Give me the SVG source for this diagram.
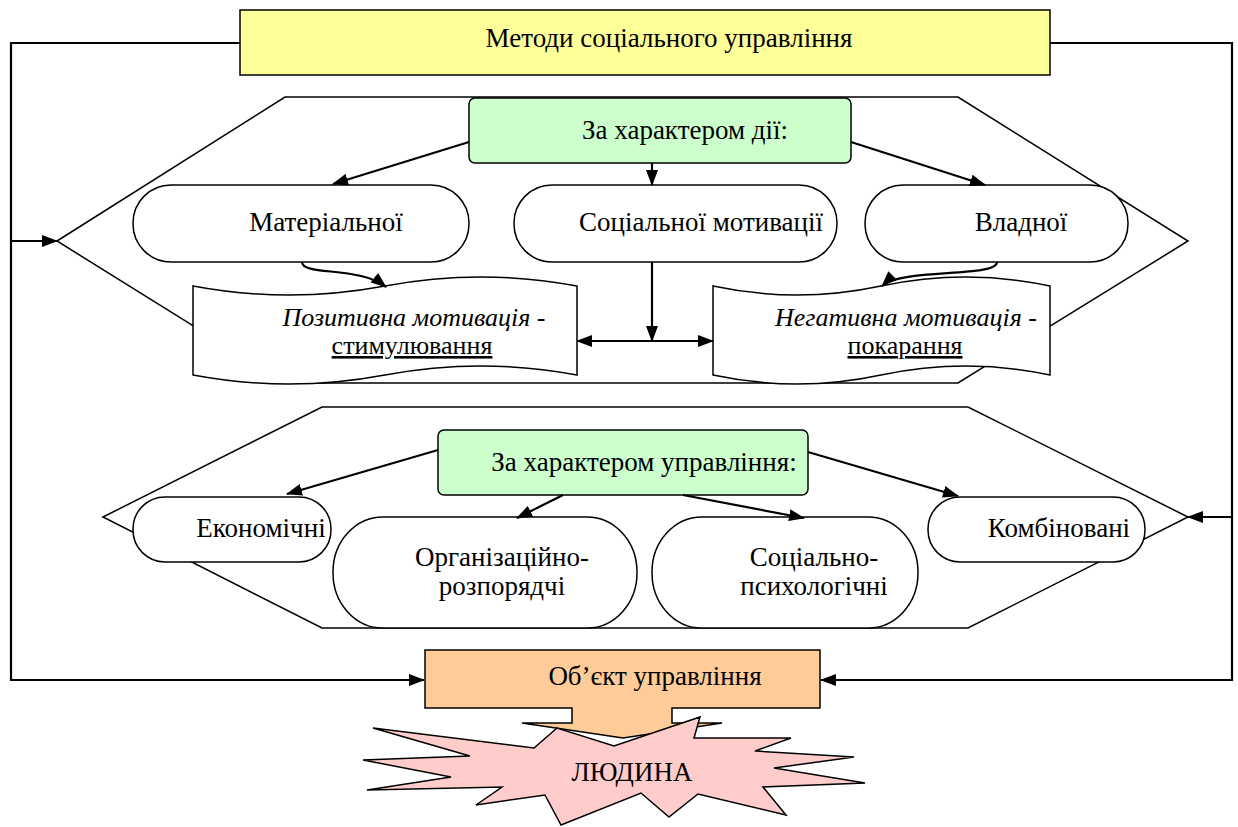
<svg xmlns="http://www.w3.org/2000/svg" width="1238" height="827" viewBox="0 0 1238 827">
<defs>
<marker id="arr" markerUnits="userSpaceOnUse" markerWidth="16" markerHeight="12" refX="15" refY="6" orient="auto-start-reverse">
<path d="M0,0 L16,6 L0,12 z" fill="#000"/>
</marker>
<style>
.t{font-family:'Liberation Serif','Times New Roman',serif;font-size:27px;fill:#000;text-anchor:middle}
.s{font-size:26px}
.i{font-style:italic}
.u{text-decoration:underline}
.hex{fill:#fff;stroke:#000;stroke-width:1.5}
.sh{stroke:#000;stroke-width:1.5}
.w{fill:#fff}
.ca{fill:none;stroke:#000;stroke-width:2.2;marker-end:url(#arr)}
</style>
</defs>
<rect width="1238" height="827" fill="#fff"/>

<g id="hex-action"><polygon class="hex" points="57,241 285,97 958,97 1188,241 958,383 285,383"/></g>
<g id="hex-management"><polygon class="hex" points="103,517 322,407 968,407 1188,517 968,628 322,628"/></g>

<g id="methods"><rect class="sh" x="240" y="10" width="810" height="65" fill="#FFFF99"/><text class="t" x="669" y="47">Методи соціального управління</text></g>

<g id="by-action"><rect class="sh" x="469" y="98" width="382" height="65" rx="6" fill="#CCFFCC"/><text class="t" x="685" y="139">За характером дії:</text></g>

<g id="material"><rect class="sh w" x="133" y="185" width="336" height="77" rx="38" ry="38"/><text class="t" x="326" y="231">Матеріальної</text></g>
<g id="social-motivation"><rect class="sh w" x="514" y="185" width="323" height="77" rx="38" ry="38"/><text class="t" x="701" y="231">Соціальної мотивації</text></g>
<g id="power"><rect class="sh w" x="865" y="185" width="263" height="77" rx="38" ry="38"/><text class="t" x="1021" y="231">Владної</text></g>

<g id="positive"><path class="sh w" d="M193,286 Q289,304 385,286 Q481,268 577,286 L577,375 Q481,357 385,375 Q289,393 193,375 Z"/><text class="t s" x="414" y="326"><tspan class="i">Позитивна мотивація</tspan> -</text><text class="t u s" x="412" y="354">стимулювання</text></g>
<g id="negative"><path class="sh w" d="M713,286 Q797,304 881,286 Q966,268 1050,286 L1050,375 Q966,357 881,375 Q797,393 713,375 Z"/><text class="t s" x="906" y="326"><tspan class="i">Негативна мотивація</tspan> -</text><text class="t u s" x="905" y="354">покарання</text></g>

<g id="by-management"><rect class="sh" x="438" y="430" width="370" height="65" rx="6" fill="#CCFFCC"/><text class="t" x="644" y="471">За характером управління:</text></g>

<g id="economic"><rect class="sh w" x="133" y="497" width="198" height="65" rx="32" ry="32"/><text class="t" x="261" y="537">Економічні</text></g>
<g id="organizational"><rect class="sh w" x="333" y="517" width="304" height="111" rx="50" ry="55"/><text class="t" x="502" y="566">Організаційно-</text><text class="t" x="502" y="595">розпорядчі</text></g>
<g id="socio-psych"><rect class="sh w" x="652" y="517" width="266" height="111" rx="50" ry="55"/><text class="t" x="814" y="566">Соціально-</text><text class="t" x="814" y="595">психологічні</text></g>
<g id="combined"><rect class="sh w" x="928" y="497" width="217" height="65" rx="32" ry="32"/><text class="t" x="1059" y="537">Комбіновані</text></g>

<g id="object"><path class="sh" fill="#FFCC99" d="M425,650 L820,650 L820,708 L672,708 L672,723 L722,723 L623,738 L522,723 L572,723 L572,708 L425,708 Z"/><text class="t" x="655" y="685">Об’єкт управління</text></g>

<g id="human"><polygon class="sh" fill="#FFCCCC" points="373,728 534,748 557,728 614,746 700,717 694,738 791,738 755,751 854,757 774,768 865,783 763,787 786,815 698,794 669,817 641,793 561,825 545,795 476,805 502,787 367,790 451,777 363,760 470,756"/><text class="t" x="632" y="781">ЛЮДИНА</text></g>

<g id="connectors">
<polyline class="ca" points="240,43 11,43 11,680 424,680"/>
<line class="ca" x1="11" y1="241" x2="57" y2="241"/>
<polyline class="ca" points="1050,43 1232,43 1232,680 821,680"/>
<line class="ca" x1="1232" y1="517" x2="1188" y2="517"/>
<line class="ca" x1="469" y1="142" x2="333" y2="184"/>
<line class="ca" x1="652" y1="163" x2="652" y2="185"/>
<line class="ca" x1="851" y1="142" x2="985" y2="185"/>
<path class="ca" d="M302,262 C302,276 360,266 386,287"/>
<path class="ca" d="M997,262 C997,278 900,268 882,286"/>
<line class="ca" x1="652" y1="262" x2="652" y2="341"/>
<line class="ca" x1="577" y1="341" x2="713" y2="341" style="marker-start:url(#arr)"/>
<line class="ca" x1="438" y1="450" x2="287" y2="494"/>
<line class="ca" x1="563" y1="495" x2="517" y2="518"/>
<line class="ca" x1="683" y1="495" x2="804" y2="518"/>
<line class="ca" x1="808" y1="452" x2="958" y2="496"/>
</g>
</svg>
